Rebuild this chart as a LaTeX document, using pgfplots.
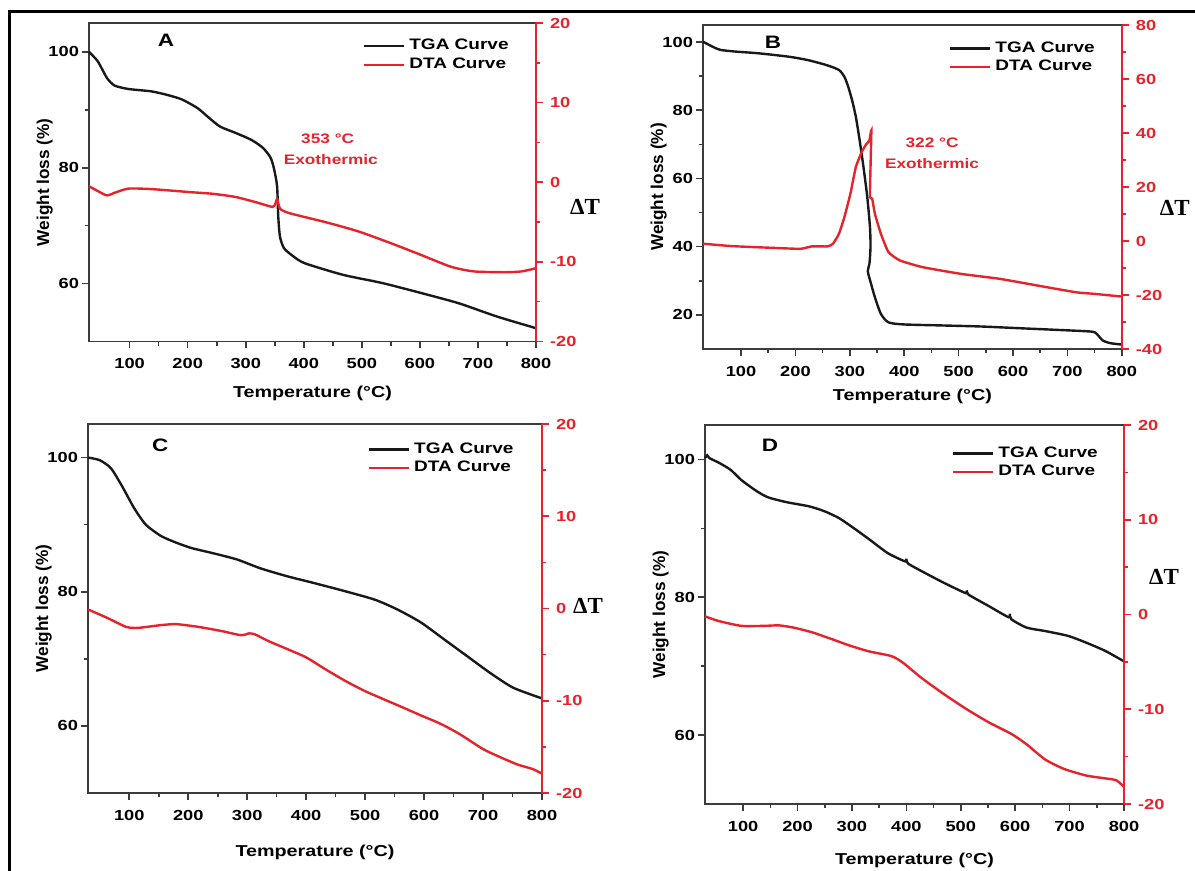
\documentclass[border=0pt]{standalone}
\usepackage{fontspec}
\setmainfont{Liberation Sans}[FakeStretch=1.25]
\newfontfamily\ylabfont{Liberation Sans}
\newfontfamily\dtfont{Liberation Serif}
\usepackage{pgfplots}
\pgfplotsset{compat=1.18}
\definecolor{dtared}{RGB}{230,35,42}
\definecolor{tgablk}{RGB}{25,25,25}
\definecolor{axgray}{RGB}{60,60,60}

\tikzset{
  tga/.style={tgablk, line width=1.2pt},
  dta/.style={dtared, line width=1.2pt},
  letter/.style={font=\bfseries\fontsize{9}{10}\selectfont},
  note/.style={dtared, font=\bfseries\fontsize{6.9}{8}\selectfont},
  dT/.style={font=\dtfont\bfseries\fontsize{11.5}{12}\selectfont}
}
\pgfplotsset{
  base/.style={scale only axis, clip=false, xmin=30, xmax=800,
    /pgf/number format/assume math mode=true,
    tick label style={font=\bfseries\fontsize{7.3}{8}\selectfont},
    major tick length=3.5pt, minor tick length=2.2pt, tick align=outside},
  leftax/.style={base, axis line style={axgray, line width=0.9pt},
    every tick/.style={axgray, line width=0.8pt},
    xtick={100,200,...,800}, minor x tick num=1, minor y tick num=1,
    xtick pos=bottom, ytick pos=left,
    xticklabel style={yshift=-1.5pt}, yticklabel style={xshift=2pt},
    xlabel={Temperature (°C)}, ylabel={Weight loss (\%)},
    ylabel style={font=\ylabfont\bfseries\fontsize{8.6}{9}\selectfont, yshift=-9pt},
    legend style={draw=none, fill=none, anchor=north east,
      font=\bfseries\fontsize{7.6}{8.5}\selectfont, row sep=-1.5pt},
    legend cell align=left,
    legend image code/.code={\draw[##1] (0pt,0pt) -- (20pt,0pt);}},
  xlab/.style={xlabel style={font=\bfseries\fontsize{7.9}{9}\selectfont, yshift=#1}},
  rightax/.style={base, axis x line=none, axis y line*=right,
    y axis line style={dtared, line width=0.9pt},
    every tick/.style={dtared, line width=0.8pt},
    yticklabel style={dtared}, minor y tick num=1}
}

\begin{document}
\begin{tikzpicture}
\useasboundingbox (0,0) rectangle (597.5pt,-435.5pt);
\draw[line width=1.6pt, black] (4.6pt,-436pt) -- (4.6pt,-5.8pt) -- (598pt,-5.8pt);

% ---------- A ----------
\begin{axis}[leftax, xlab=-1.5pt, at={(44.5pt,-11.5pt)}, anchor=north west,
  width=223.5pt, height=159.25pt, ymin=50, ymax=105, ytick={60,80,100},
  legend style={at={(rel axis cs:0.962,0.975)}}]
\addplot[tga, smooth, tension=0.4] coordinates {(30,100) (45,98.4) (61,95.5) (74,94.2) (98,93.6)
  (137,93.2) (164,92.6) (190,91.8) (217,90.3) (237,88.6) (256,87.1) (283,86.0)
  (310,84.8) (330,83.4) (343,81.7) (349,79.7) (354,76.8) (356,71.6) (359,68.1)
  (366,66.1) (382,64.7) (402,63.5) (468,61.5) (535,60.1) (601,58.4) (667,56.6)
  (733,54.3) (800,52.3)};
\addlegendentry{TGA Curve}
\addlegendimage{dta}
\addlegendentry{DTA Curve}
\node[letter] at (rel axis cs:0.172,0.947) {A};
\node[note] at (rel axis cs:0.534,0.636) {353 °C};
\node[note] at (rel axis cs:0.541,0.570) {Exothermic};
\end{axis}
\begin{axis}[rightax, at={(44.5pt,-11.5pt)}, anchor=north west,
  width=223.5pt, height=159.25pt, ymin=-20, ymax=20, ytick={-20,-10,...,20}]
\addplot[dta, smooth, tension=0.4] coordinates {(30,-0.5) (45,-1.1) (61,-1.65) (75,-1.3) (98,-0.8)
  (137,-0.86) (204,-1.24) (243,-1.45) (283,-1.86) (322,-2.6) (346,-3.1)
  (351,-2.7) (354,-2.1) (357,-2.9) (360,-3.4) (376,-3.9) (442,-5.1) (495,-6.2)
  (548,-7.6) (601,-9.1) (653,-10.6) (693,-11.2) (747,-11.3) (775,-11.2) (800,-10.8)};
\node[dT] at (rel axis cs:1,0.422) [xshift=24.5pt] {ΔT};
\end{axis}

% ---------- B ----------
\begin{axis}[leftax, xlab=0.5pt, at={(351.5pt,-12.5pt)}, anchor=north west,
  width=209.4pt, height=162pt, ymin=10, ymax=105, ytick={20,40,...,100},
  legend style={at={(rel axis cs:0.96,0.975)}}]
\addplot[tga, smooth, tension=0.4] coordinates {(30,100.1) (48,98.6) (62,97.7) (90,97.2) (132,96.7)
  (188,95.7) (223,94.7) (258,93.2) (280,91.8) (290,89.8) (297,86.9) (304,83.0)
  (311,78.1) (318,71.2) (325,63.4) (332,54.6) (337,45.7) (338,39.9) (336,35.0)
  (333,32.8) (339,29.1) (346,25.2) (357,20.3) (371,17.8) (399,17.2) (469,16.9)
  (540,16.6) (610,16.1) (681,15.6) (744,15.1) (754,14.4) (765,12.5) (779,11.7)
  (800,11.3)};
\addlegendentry{TGA Curve}
\addlegendimage{dta}
\addlegendentry{DTA Curve}
\node[letter] at (rel axis cs:0.167,0.948) {B};
\node[note] at (rel axis cs:0.547,0.636) {322 °C};
\node[note] at (rel axis cs:0.547,0.571) {Exothermic};
\end{axis}
\begin{axis}[rightax, at={(351.5pt,-12.5pt)}, anchor=north west,
  width=209.4pt, height=162pt, ymin=-40, ymax=80, ytick={-40,-20,...,80}]
\addplot[dta, smooth, tension=0.3] coordinates {(30,-1.0) (83,-1.9) (153,-2.5) (209,-2.9) (230,-2.0)
  (259,-2.0) (269,-1.0) (280,2.7) (290,8.9) (301,17.5) (311,27.4) (322,33.0)
  (329,35.5) (336,37.3) (339.5,41.0) (338,27.4) (337,16.3) (341,15.7) (346,10.1)
  (357,2.7) (371,-4.1) (392,-7.2) (434,-9.7) (505,-12.2) (575,-14.0) (645,-16.5)
  (716,-19.0) (751,-19.6) (800,-20.6)};
\node[dT] at (rel axis cs:1,0.435) [xshift=26.5pt] {ΔT};
\end{axis}

% ---------- C ----------
\begin{axis}[leftax, xlab=-5.5pt, at={(44pt,-212pt)}, anchor=north west,
  width=227pt, height=184.5pt, ymin=50, ymax=105, ytick={60,80,100},
  legend style={at={(rel axis cs:0.96,0.972)}}]
\addplot[tga, smooth, tension=0.4] coordinates {(30,100) (50,99.6) (69,98.4) (88,95.7) (108,92.5)
  (128,90.0) (154,88.3) (180,87.3) (206,86.5) (244,85.7) (283,84.8) (322,83.5)
  (368,82.3) (413,81.3) (465,80.1) (517,78.8) (556,77.3) (595,75.4) (634,72.9)
  (673,70.4) (712,67.9) (751,65.7) (800,64.1)};
\addlegendentry{TGA Curve}
\addlegendimage{dta}
\addlegendentry{DTA Curve}
\node[letter] at (rel axis cs:0.159,0.943) {C};
\end{axis}
\begin{axis}[rightax, at={(44pt,-212pt)}, anchor=north west,
  width=227pt, height=184.5pt, ymin=-20, ymax=20, ytick={-20,-10,...,20}]
\addplot[dta, smooth, tension=0.4] coordinates {(30,-0.1) (62,-1.0) (95,-2.0) (115,-2.1) (154,-1.8)
  (180,-1.7) (218,-2.0) (257,-2.45) (290,-2.9) (303,-2.7) (313,-2.8) (335,-3.5)
  (368,-4.4) (400,-5.3) (433,-6.6) (465,-7.8) (498,-8.9) (530,-9.8) (563,-10.7)
  (595,-11.6) (628,-12.5) (660,-13.6) (699,-15.2) (725,-16.0) (758,-16.9)
  (784,-17.4) (800,-17.9)};
\node[dT] at (rel axis cs:1,0.507) [xshift=23pt] {ΔT};
\end{axis}

% ---------- D ----------
\begin{axis}[leftax, xlab=-4pt, at={(352.5pt,-212.5pt)}, anchor=north west,
  width=209.5pt, height=189.5pt, ymin=50, ymax=105, ytick={60,80,100},
  legend style={at={(rel axis cs:0.962,0.965)}}]
\addplot[tga, smooth, tension=0.4] coordinates {(30,100.2) (34,100.6) (38,100.2) (56,99.5) (77,98.5)
  (97,97.0) (125,95.4) (146,94.5) (180,93.8) (221,93.2) (249,92.5) (276,91.5)
  (304,90.0) (332,88.4) (366,86.4) (398,85.2) (400,85.6) (403,84.9) (435,83.5)
  (469,82.1) (509,80.6) (511,81.0) (514,80.4) (552,78.7) (588,77.1) (590,77.6)
  (593,76.8) (621,75.6) (655,75.1) (697,74.4) (731,73.4) (766,72.2) (800,70.7)};
\addlegendentry{TGA Curve}
\addlegendimage{dta}
\addlegendentry{DTA Curve}
\node[letter] at (rel axis cs:0.155,0.947) {D};
\end{axis}
\begin{axis}[rightax, at={(352.5pt,-212.5pt)}, anchor=north west,
  width=209.5pt, height=189.5pt, ymin=-20, ymax=20, ytick={-20,-10,...,20}]
\addplot[dta, smooth, tension=0.4] coordinates {(30,-0.2) (56,-0.7) (97,-1.2) (139,-1.2) (166,-1.15)
  (194,-1.4) (228,-1.9) (263,-2.6) (297,-3.3) (332,-3.9) (373,-4.4) (394,-5.1)
  (428,-6.7) (469,-8.4) (511,-10.0) (552,-11.4) (593,-12.6) (621,-13.7)
  (655,-15.3) (690,-16.3) (731,-17.0) (766,-17.3) (786,-17.5) (800,-18.2)};
\node[dT] at (rel axis cs:1,0.599) [xshift=20pt] {ΔT};
\end{axis}
\end{tikzpicture}
\end{document}
